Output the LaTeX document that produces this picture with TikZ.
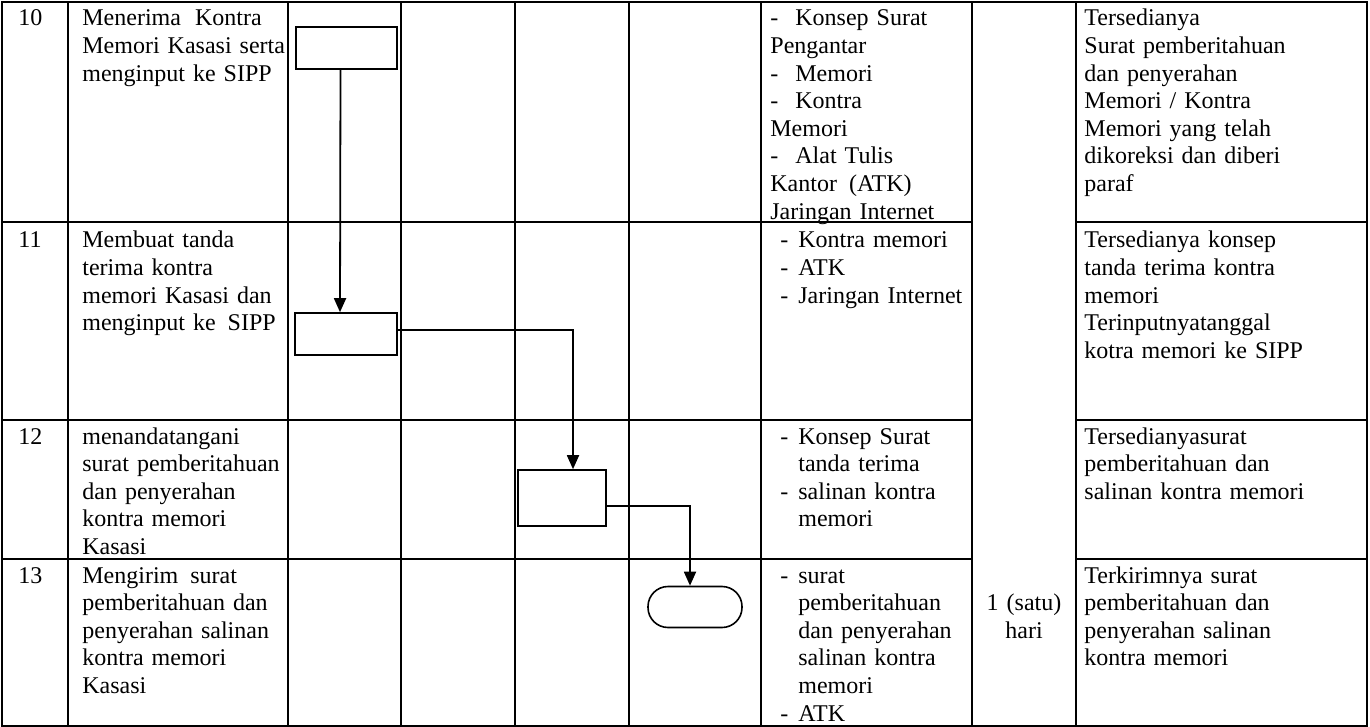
\documentclass[tikz,border=0pt]{standalone}
\usepackage{fontspec}
\setmainfont{Liberation Serif}
\usetikzlibrary{arrows.meta,calc}
\newcommand{\dashitem}{\makebox[9pt][l]{-}}
\newcommand{\contitem}{\hspace*{9pt}}
\newcommand{\dashfirst}{\makebox[12.5pt][l]{-}}
\begin{document}
\begin{tikzpicture}[x=0.5pt,y=-0.5pt,
  grid/.style={line width=1pt},
  procbox/.style={draw,line width=0.8pt,inner sep=0pt},
  txt/.style={anchor=base west,inner sep=0pt,align=left,text width=#1,font=\fontsize{12pt}{13.8pt}\selectfont},
  ctxt/.style={anchor=north,inner sep=0pt,align=center,text width=#1,font=\fontsize{12pt}{13.8pt}\selectfont},
  arr/.style={line width=0.9pt,-{Triangle[length=7pt,width=6pt]}},
]
\useasboundingbox (0,0) rectangle (1370,727);
% table grid
\draw[grid] (2,2) rectangle (1367,726);
\foreach \xx in {68,288,401,515,629,761,972,1076} \draw[grid] (\xx,2) -- (\xx,726);
\foreach \yy in {222,420,559} {
  \draw[grid] (2,\yy) -- (972,\yy);
  \draw[grid] (1076,\yy) -- (1367,\yy);
}
% numbers
\node[txt=30pt] (n10) at (18,26) {10};
\node[txt=30pt] (n11) at (18,248) {11};
\node[txt=30pt] (n12) at (18,444) {12};
\node[txt=30pt] (n13) at (18,583) {13};
% activities
\node[txt=110pt] (a10) at (82,26) {Menerima\hspace{7pt}Kontra\\Memori Kasasi serta\\menginput ke SIPP};
\node[txt=110pt] (a11) at (82,248) {Membuat tanda\\terima kontra\\memori Kasasi dan\\menginput ke\hspace{6pt}SIPP};
\node[txt=110pt] (a12) at (82,444) {menandatangani\\surat pemberitahuan\\dan penyerahan\\kontra memori\\Kasasi};
\node[txt=110pt] (a13) at (82,583) {Mengirim\hspace{6pt}surat\\pemberitahuan dan\\penyerahan salinan\\kontra memori\\Kasasi};
% requirements
\node[txt=102pt] (k10) at (770,26) {\dashfirst Konsep Surat\\Pengantar\\\dashfirst Memori\\\dashfirst Kontra\\Memori\\\dashfirst Alat Tulis\\Kantor\hspace{6pt}(ATK)\\Jaringan Internet};
\node[txt=96pt] (k11) at (780,248) {\dashitem Kontra memori\\\dashitem ATK\\\dashitem Jaringan Internet};
\node[txt=96pt] (k12) at (780,444) {\dashitem Konsep Surat\\\contitem tanda terima\\\dashitem salinan kontra\\\contitem memori};
\node[txt=96pt] (k13) at (780,583) {\dashitem surat\\\contitem pemberitahuan\\\contitem dan penyerahan\\\contitem salinan kontra\\\contitem memori\\\dashitem ATK};
% time
\node[txt=50pt,align=center,anchor=base] (w13) at (1024,610.6) {1 (satu)\\hari};
% outputs
\node[txt=140pt] (o10) at (1084,26) {Tersedianya\\Surat pemberitahuan\\dan penyerahan\\Memori / Kontra\\Memori yang telah\\dikoreksi dan diberi\\paraf};
\node[txt=140pt] (o11) at (1084,248) {Tersedianya konsep\\tanda terima kontra\\memori\\Terinputnyatanggal\\kotra memori ke SIPP};
\node[txt=140pt] (o12) at (1084,444) {Tersedianyasurat\\pemberitahuan dan\\salinan kontra memori};
\node[txt=140pt] (o13) at (1084,583) {Terkirimnya surat\\pemberitahuan dan\\penyerahan salinan\\kontra memori};
% flow shapes
\node[procbox,minimum width=50.5pt,minimum height=21pt] (A) at (346.5,48) {};
\node[procbox,minimum width=51pt,minimum height=21pt] (B) at (346,334) {};
\node[procbox,minimum width=44pt,minimum height=28pt] (C) at (562,498) {};
\node[procbox,rounded corners=10pt,minimum width=47pt,minimum height=20.5pt] (D) at (695,607) {};
% connectors
\draw[arr] ([xshift=-3pt]A.south) -- ([xshift=-3pt]B.north);
\draw[arr] ([yshift=2pt]B.east) -| ([xshift=5.5pt]C.north);
\draw[arr] ([yshift=-4pt]C.east) -| ([xshift=-2.5pt]D.north);
\end{tikzpicture}
\end{document}
